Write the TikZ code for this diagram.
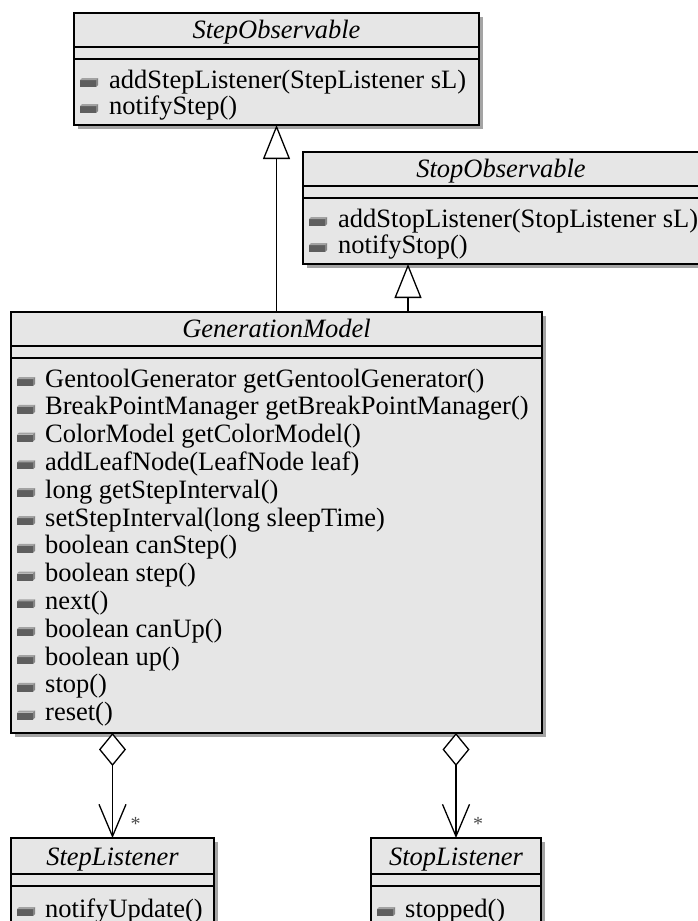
\documentclass[tikz,border=0pt]{standalone}
\usepackage{fontspec}
\setmainfont{Liberation Serif}
\usetikzlibrary{arrows.meta,shadows}
\definecolor{boxfill}{HTML}{E6E6E6}
\definecolor{boxshade}{HTML}{A4A4A4}
\definecolor{opbody}{HTML}{5E5E5E}
\definecolor{optop}{HTML}{A2A2A2}
\definecolor{opside}{HTML}{858585}
\tikzset{
  umlbox/.style={draw, line width=1.2pt, fill=boxfill, inner sep=0pt, outer sep=0pt,
    anchor=north west,
    general shadow={fill=boxshade, shadow xshift=3.5pt, shadow yshift=-3.5pt}},
  classname/.style={font=\itshape\fontsize{26.5}{26.5}\selectfont,
    inner sep=0pt, anchor=base},
  optext/.style={font=\fontsize{26.5}{26.5}\selectfont, inner sep=0pt, anchor=base west},
  sepline/.style={line width=1.2pt},
  link/.style={line width=1.3pt},
  multi/.style={font=\fontsize{20}{20}\selectfont, text=black!70, inner sep=0pt},
  opicon/.pic={
    \fill[opbody] (0,-2) rectangle (16,5);
    \fill[optop] (0,-2) -- (2,-4) -- (18,-4) -- (16,-2) -- cycle;
    \fill[opside] (16,-2) -- (18,-4) -- (18,3) -- (16,5) -- cycle;
  },
}
\begin{document}
\begin{tikzpicture}[x=1pt,y=-1pt]
\useasboundingbox (0,0) rectangle (698,921);

% ---------- StepObservable ----------
\node[umlbox, minimum width=405pt, minimum height=112pt] (stepobs) at (74,13) {};
\draw[sepline] (74,47) -- (479,47);
\draw[sepline] (74,59) -- (479,59);
\node[classname] (stepobs-t) at (276.5,38) {StepObservable};
\foreach \txt [count=\i] in {addStepListener(StepListener sL), notifyStep()} {
  \pic at (80,{88+26*(\i-1)-6}) {opicon};
  \node[optext] (stepobs-op\i) at (109,{88+26*(\i-1)}) {\txt};
}

% ---------- StopObservable ----------
\node[umlbox, minimum width=397pt, minimum height=112pt] (stopobs) at (303,152) {};
\draw[sepline] (303,186) -- (700,186);
\draw[sepline] (303,198) -- (700,198);
\node[classname] (stopobs-t) at (501,177) {StopObservable};
\foreach \txt [count=\i] in {addStopListener(StopListener sL), notifyStop()} {
  \pic at (309,{227+26*(\i-1)-6}) {opicon};
  \node[optext] (stopobs-op\i) at (338,{227+26*(\i-1)}) {\txt};
}
\coordinate (stopobs-in) at (408,264);

% ---------- GenerationModel ----------
\node[umlbox, minimum width=531pt, minimum height=421pt] (gen) at (11,312) {};
\draw[sepline] (11,346) -- (542,346);
\draw[sepline] (11,358) -- (542,358);
\node[classname] (gen-t) at (276.5,337) {GenerationModel};
\foreach \txt [count=\i] in {
    GentoolGenerator getGentoolGenerator(),
    BreakPointManager getBreakPointManager(),
    ColorModel getColorModel(),
    addLeafNode(LeafNode leaf),
    long getStepInterval(),
    setStepInterval(long sleepTime),
    boolean canStep(),
    boolean step(),
    next(),
    boolean canUp(),
    boolean up(),
    stop(),
    reset()} {
  \pic at (17,{387+27.8*(\i-1)-6}) {opicon};
  \node[optext] (gen-op\i) at (45,{387+27.8*(\i-1)}) {\txt};
}

% ---------- StepListener ----------
\node[umlbox, minimum width=203pt, minimum height=95pt] (steplis) at (11,838) {};
\draw[sepline] (11,874) -- (214,874);
\draw[sepline] (11,886) -- (214,886);
\node[classname] (steplis-t) at (112.5,865) {StepListener};
\pic at (17,911) {opicon};
\node[optext] (steplis-op1) at (45,917) {notifyUpdate()};

% ---------- StopListener ----------
\node[umlbox, minimum width=170pt, minimum height=95pt] (stoplis) at (371,838) {};
\draw[sepline] (371,874) -- (541,874);
\draw[sepline] (371,886) -- (541,886);
\node[classname] (stoplis-t) at (456,865) {StopListener};
\pic at (377,911) {opicon};
\node[optext] (stoplis-op1) at (405,917) {stopped()};

% ---------- generalisations ----------
\draw[link, -{Triangle[length=34pt, width=27pt, fill=white]}]
  (gen.north -| stepobs.south) -- (stepobs.south);
\draw[link, -{Triangle[length=34pt, width=27pt, fill=white]}]
  (gen.north -| stopobs-in) -- (stopobs-in);

% ---------- aggregations ----------
\draw[link, {Diamond[length=33pt, width=27pt, fill=white]}-{Straight Barb[length=32pt, width=27pt]}]
  (gen.south -| steplis.north) -- node[multi, pos=0.87, xshift=23pt] (steplis-m) {*} (steplis.north);
\draw[link, {Diamond[length=33pt, width=27pt, fill=white]}-{Straight Barb[length=32pt, width=27pt]}]
  (gen.south -| stoplis.north) -- node[multi, pos=0.87, xshift=22pt] (stoplis-m) {*} (stoplis.north);
\end{tikzpicture}
\end{document}
